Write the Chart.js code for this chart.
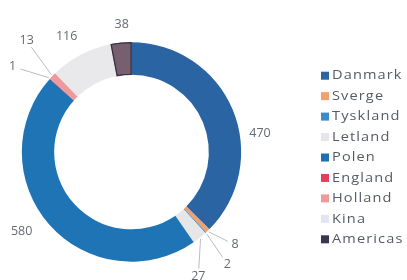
<!DOCTYPE html>
<html>
<head>
<meta charset="utf-8">
<script src="https://cdn.jsdelivr.net/npm/chart.js@4/dist/chart.umd.min.js"></script>
<style>
html,body{margin:0;padding:0;background:#fff;}
#wrap{position:relative;width:407px;height:280px;}
</style>
</head>
<body>
<div id="wrap"><canvas id="c" width="407" height="280"></canvas></div>
<script>
const categories = ["Danmark","Sverge","Tyskland","Letland","Polen","England","Holland","Kina","Americas"];
const values = [470, 8, 2, 27, 580, 1, 13, 116, 38];
const valueLabels = ["470","8","2","27","580","1","13","116","38"];

const colors = ["#2a64a3","#f2a06e","#3a8bc8","#e6e6e8","#1f74b6","#e0405c","#ef9a9a","#e9e9ec","#76606f"];
const legendColors = ["#2a64a3","#f2a06e","#3a8bc8","#e6e6e8","#1f6fb3","#e0405c","#ef9a9a","#e2e5ef","#3a3550"];
// label placement: [angle deg clockwise from top, distance factor of outer radius, leader line]
const labelPlace = [
  [82.0, 1.18, false],
  [131.9, 1.265, true],
  [139.5, 1.34, true],
  [151.8, 1.286, true],
  [234.0, 1.234, false],
  [305.7, 1.33, true],
  [316.7, 1.39, true],
  [330.8, 1.208, false],
  [355.6, 1.167, false]
];

const labelPlugin = {
  id: 'labels',
  afterDatasetsDraw(chart) {
    const ctx = chart.ctx;
    const meta = chart.getDatasetMeta(0);
    ctx.save();
    ctx.font = '12.5px "Open Sans"';
    ctx.fillStyle = '#666a72';
    ctx.textAlign = 'center';
    ctx.textBaseline = 'middle';
    meta.data.forEach((arc, i) => {
      const p = arc.getProps(['x','y','startAngle','endAngle','outerRadius'], true);
      const a = labelPlace[i][0] * Math.PI / 180;
      const r = p.outerRadius * labelPlace[i][1];
      const lx = p.x + Math.sin(a) * r;
      const ly = p.y - Math.cos(a) * r;
      if (labelPlace[i][2]) {
        const mid = (p.startAngle + p.endAngle) / 2;
        const ex = p.x + Math.cos(mid) * (p.outerRadius + 1);
        const ey = p.y + Math.sin(mid) * (p.outerRadius + 1);
        const dx = ex - lx, dy = ey - ly;
        const d = Math.hypot(dx, dy);
        ctx.strokeStyle = '#b8bcc4';
        ctx.lineWidth = 1;
        ctx.beginPath();
        ctx.moveTo(lx + dx / d * 8, ly + dy / d * 8);
        ctx.lineTo(ex, ey);
        ctx.stroke();
      }
      ctx.fillText(valueLabels[i], lx, ly);
    });
    ctx.restore();
  }
};

const legendPlugin = {
  id: 'customLegend',
  afterDraw(chart) {
    const ctx = chart.ctx;
    const x0 = 321, y0 = 75.7, step = 20.45;
    categories.forEach((c, i) => {
      const y = y0 + i * step;
      ctx.save();
      ctx.fillStyle = legendColors[i];
      ctx.fillRect(x0, y - 4, 8, 8);
      ctx.translate(x0 + 11, y);
      ctx.scale(1.12, 1);
      ctx.font = '13px "Open Sans"';
      try { ctx.letterSpacing = '1px'; } catch (e) {}
      ctx.textBaseline = 'middle';
      ctx.textAlign = 'left';
      ctx.fillStyle = '#555a66';
      ctx.fillText(c, 0, 0);
      ctx.restore();
    });
  }
};

new Chart(document.getElementById('c'), {
  type: 'doughnut',
  data: {
    labels: categories,
    datasets: [{
      data: values,
      backgroundColor: colors,
      borderWidth: [0,0,0,0,0,0,0,0,1],
      borderColor: ["#fff","#fff","#fff","#fff","#fff","#fff","#fff","#fff","#3a3040"],
      borderAlign: 'inner'
    }]
  },
  options: {
    responsive: false,
    animation: false,
    cutout: '70%',
    layout: { padding: { left: 21.5, right: 165.5, top: 42, bottom: 18 } },
    plugins: {
      legend: { display: false },
      tooltip: { enabled: false }
    }
  },
  plugins: [labelPlugin, legendPlugin]
});
</script>
</body>
</html>
